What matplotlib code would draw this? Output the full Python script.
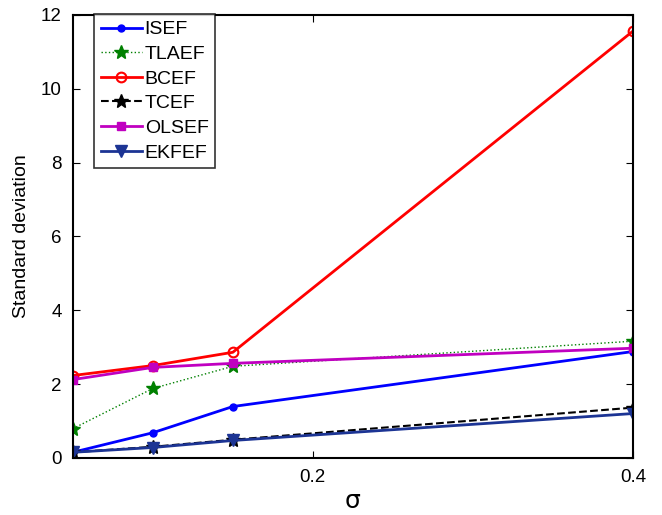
import numpy as np
import matplotlib
matplotlib.use('Agg')
import matplotlib.pyplot as plt

plt.rcParams['font.family'] = ['Liberation Sans', 'DejaVu Sans']

sigma = [0.05, 0.1, 0.15, 0.4]
isef = [0.15, 0.68, 1.39, 2.88]
tlaef = [0.79, 1.88, 2.48, 3.16]
bcef = [2.23, 2.50, 2.86, 11.56]
tcef = [0.15, 0.30, 0.49, 1.36]
olsef = [2.12, 2.45, 2.56, 2.97]
ekfef = [0.15, 0.28, 0.47, 1.20]

fig = plt.figure(figsize=(6.62, 5.15), dpi=100)
ax = fig.add_axes([0.110, 0.111, 0.846, 0.860])

ax.plot(sigma, isef, color='#0000ff', marker='o', ms=5, lw=2, label='ISEF')
ax.plot(sigma, tlaef, color='#008000', marker='*', ms=10, lw=1, ls=':', label='TLAEF')
ax.plot(sigma, bcef, color='#ff0000', marker='o', ms=7, mfc='none', mew=1.5, lw=2, label='BCEF')
ax.plot(sigma, tcef, color='black', marker='*', ms=10, lw=1.5, ls='--', label='TCEF')
ax.plot(sigma, olsef, color='#c000c0', marker='s', ms=6, mfc='#c000c0', lw=2, label='OLSEF')
ax.plot(sigma, ekfef, color='#1c3494', marker='v', ms=8, lw=2, label='EKFEF')

ax.set_xlim(0.05, 0.4)
ax.set_ylim(0, 12)
ax.set_xticks([0.2, 0.4])
ax.set_xticklabels(['0.2', '0.4'])
ax.set_yticks(range(0, 13, 2))
ax.tick_params(direction='in', labelsize=13.5, length=5, pad=8, top=True, right=True)
for s in ax.spines.values():
    s.set_linewidth(1.5)
ax.set_xlabel('σ', fontsize=18, family='DejaVu Sans', labelpad=2)
ax.set_ylabel('Standard deviation', fontsize=14, labelpad=8)

leg = ax.legend(loc='upper left', bbox_to_anchor=(0.038, 1.002), fontsize=14,
                fancybox=False, edgecolor='black', handlelength=2.1,
                handletextpad=0.15, borderaxespad=0, labelspacing=0.36,
                borderpad=0.35)
leg.get_frame().set_linewidth(1.2)

fig.savefig('out.png', dpi=100)
